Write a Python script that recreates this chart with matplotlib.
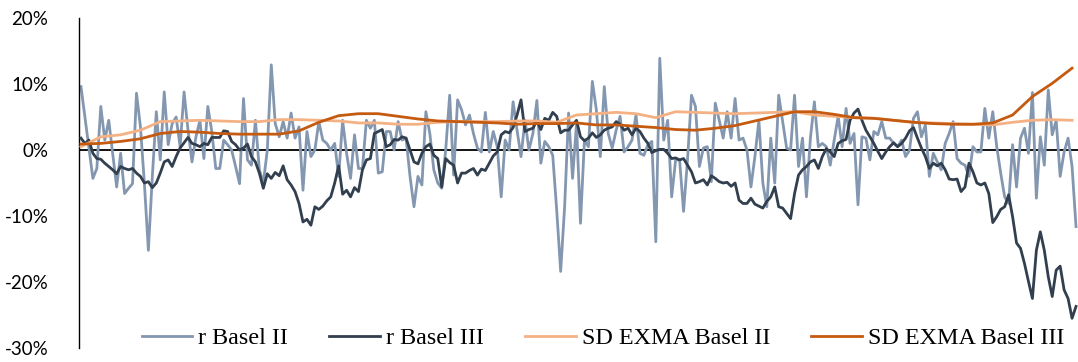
import matplotlib
matplotlib.use("Agg")
import matplotlib.pyplot as plt
import numpy as np

# ---- data (values in %) ----
r_basel2 = [
    9.6, 5, 0.5, -4.3, -2.8, 6.6, 1.5, 4.5, -0.5, -5.6, -0.5, -6.6, -5.8, -5.1, 8.6, 3.5, -5.1, -15.2, -4, 5.8,
    -1.5, 8.8, 0.8, 4.0, 5.0, 0.5, 8.8, 3, -1.8, 2, 4.5, -1.3, 6.6, 2.8, -2.8, -2.8, 1.5, 0.8, 0, -2.5, -5.1, 7.8,
    -1.5, -2.3, 4.5, -3, -5, 0, 12.9, 4.0, 2.0, 4.3, 1.8, 5.6, 1.8, 3.5, -6.1, 2.8, -1, 0, 4.3, 1.5,
    1, 0, 1, -4, 4.5, -0.5, -4.3, 2.3, -2.8, -2.8, 4.5, 3.3, 4.5, -3.5, -3.3, 2.8, 2.8, 0, 4.3, 1.5, 1.8, -4,
    -8.6, -4, -5.3, 5.8, 2.5, -3, -5, -5.8, 0, 8.3, -3.8, 7.6, 6.1, 3.8, 5.3, 2.5, 0.3, -0.3, 5.7, -0.3,
    2.8, 0.5, -7.1, 1.5, 0, 7.3, 3, -1, 4.5, 0, 2.5, 7.5, -2, 1.3, 0.5, -0.8, -9.1, -18.4, -8.6, 5.6, -4.3, 4,
    -11.1, 1.5, 0.5, 10.4, 6.1, -1, 9.6, 2.5, 0.3, 3, 5.1, -0.3, 0.5, 1.5, 5.3, -0.5, -0.8, 0.8, 1.3, -13.9,
    13.9, 1.5, 4.5, -7.1, -1.5, -1.5, -9.3, -1.5, 8.3, 6.6, -2.5, 0.3, 0.5, -4.8, 7.1, 4.5, 1.8, 5.8, 1.8, 7.8, 1.5,
    1.8, 0, -5.6, -1, 4.5, -5, -8.6, 1.8, -5, 8.3, 4.3, 0.3, 0, 8.3, -2.5, 1.8, -7.1, 1.8, 7.3, 0.5,
    1, 0.5, -2.3, 1.5, 5.1, 0.5, 6.3, 1, 2.5, -8.3, 2, 1.8, -1.5, 2.8, 2.3, 4.3, 1.8, 1.8, 1, 0.5, 1.5,
    -1, 0, 4.8, 5.8, 2, 3.8, -4, -0.5, -1.8, -3, 1, 2.5, 4.3, -1.3, -2, -2.3, -4, 0.5, -0.3, -0.3,
    6.3, 1.8, 5.8, 0.5, -3.5, -7.1, -8.1, 0.8, -5.6, 1.8, 3.3, -0.5, 8.7, -7.3, 2, -2.3, 9.1, 2.3, 4.5, -4,
    -0.3, 1.8, -2.5, -11.6,
]

r_basel3 = [
    1.8, 1.0, 1.5, -0.5, -1.3, -1.4, -2.0, -2.5, -3.0, -3.6, -2.5, -2.8, -3.0, -2.8, -3.5, -4.0, -5.0, -4.8, -5.7, -5.0,
    -3.5, -1.8, -1.5, -2.5, -1.0, 0.3, 1.1, 1.9, 1.0, 0.8, 0.5, 1.0, 0.8, 1.9, 1.9, 1.9, 2.9, 2.8, 1.3, 0.8,
    0, 0.3, 0.9, -1, -1.8, -3.5, -5.8, -3.6, -4.3, -3.4, -3.9, -2.4, -4.5, -5.3, -6.3, -8.1, -10.9, -10.5, -11.4, -8.6,
    -9, -8.5, -7.7, -7.1, -5, -2.4, -6.7, -6.1, -7.1, -5.7, -6.3, -3, -1.5, -1.3, 2.5, 2.8, 3.1, 0.5, 0.8, 1.6, 1.5, 2,
    1.8, 0, -1.8, -2.1, -0.5, 0.5, 0.9, -0.8, -1.3, -5.6, -1.3, -1.9, -2.3, -5, -3.5, -3.5, -3.1, -2.8, -3.8, -2.9,
    -3.1, -2, -0.9, -0.3, 2.3, 2.8, 2.6, 3.4, 5.3, 7.6, 2.8, 3.1, 3.3, 4.4, 3.1, 4.8, 4.5, 5.7, 5.1, 2.6, 3, 3, 3.8,
    4.5, 2, 1.4, 1.8, 2.6, 1.9, 2.3, 3, 3.3, 3.5, 4.3, 3.9, 3, 3.3, 2.3, 3.3, 2.8, 1.8, 1, -0.4,
    -0.1, 0.1, 0.1, -0.5, -1.3, -1.2, -1.5, -1.3, -2.3, -3.3, -5, -4.8, -4.5, -5.3, -3.9, -4.3, -4.8, -5, -4.9, -5.5,
    -5, -7.6, -8.1,
    -8.1, -7.3, -8.2, -8.5, -8.8, -7.8, -7.1, -5.6, -8.6, -8.8, -9.6, -10.4, -6.6, -3.8, -3, -2.5, -1.8, -1.5, -2.8, -1,
    0.2, -0.3, -1, 1, 1.4, 1.6, 4.5, 5.6, 6.2, 4.5, 3, 2, 1, -0.2, -1.3, -0.3, 0.5, 1.1, 0.5, 1,
    1.8, 2.9, 3.4, 1.8, 0.3, -1, -2.8, -2, -2.4, -2, -3, -4.4, -4.5, -4.4, -6.3, -5.6, -2, -3.3, -5, -5.3,
    -5, -6.6, -11, -10.1, -9, -8.6, -6.8, -10.1, -14.1, -14.9, -17.2, -19.9, -22.5, -15.2, -12.4, -15.2, -19.2, -22.2,
    -18.2, -17.6, -21.2, -22.5, -25.5, -23.7,
]

# EXMA standard deviations, read every 5th period
sd_step = 5
sd_basel2 = [
    0.5, 2.0, 2.3, 3.0, 4.3, 4.4, 4.5, 4.4, 4.3, 4.3, 4.6, 4.6, 4.5, 4.4, 4.1, 4.1, 3.9, 3.9, 4.2, 4.3,
    4.3, 4.3, 4.4, 4.4, 4.2, 5.3, 5.5, 5.7, 5.5, 4.9, 5.8, 5.7, 5.6, 5.5, 5.6, 5.7, 5.8, 5.3, 5.1, 4.9,
    4.8, 4.5, 4.2, 4.1, 4.0, 3.9, 3.8, 4.2, 4.5, 4.6, 4.5,
]
sd_basel3 = [
    0.9, 1.0, 1.3, 1.7, 2.5, 2.8, 2.7, 2.5, 2.4, 2.4, 2.4, 2.9, 4.2, 5.2, 5.5, 5.5, 5.1, 4.7, 4.4, 4.3,
    4.2, 4.1, 3.9, 4.0, 4.0, 4.1, 3.8, 3.8, 3.6, 3.4, 3.1, 3.0, 3.3, 3.7, 4.4, 5.1, 5.8, 5.8, 5.4, 4.9,
    4.8, 4.5, 4.2, 4.0, 3.9, 3.9, 4.1, 5.3, 8.1, 10.1, 12.4,
]

series_labels = ["r Basel II", "r Basel III", "SD EXMA Basel II", "SD EXMA Basel III"]
y_ticks = [-30, -20, -10, 0, 10, 20]
y_tick_labels = ["-30%", "-20%", "-10%", "0%", "10%", "20%"]

colors = ["#8497B0", "#323F4F", "#F4B183", "#C55A11"]

# ---- figure ----
W, H = 1078, 362
fig = plt.figure(figsize=(W / 100, H / 100), dpi=100)
ax = fig.add_axes([79 / W, 14 / H, 999 / W, 330 / H])

t = np.arange(len(r_basel2))
t3 = np.arange(len(r_basel3))
t_sd2 = np.arange(len(sd_basel2)) * sd_step
t_sd3 = np.arange(len(sd_basel3)) * sd_step

ax.axhline(0, color="black", lw=1.3, zorder=1)
ax.plot(t, r_basel2, color=colors[0], lw=2.0, label=series_labels[0], zorder=2)
ax.plot(t3, r_basel3, color=colors[1], lw=2.0, label=series_labels[1], zorder=3)
ax.plot(t_sd2, sd_basel2, color=colors[2], lw=2.0, label=series_labels[2], zorder=4)
ax.plot(t_sd3, sd_basel3, color=colors[3], lw=2.0, label=series_labels[3], zorder=5)

ax.set_xlim(-0.5, len(r_basel2) - 0.5)
ax.set_ylim(-30, 20)
ax.set_yticks(y_ticks)
ax.set_yticklabels(y_tick_labels, fontsize=13.5, family=["Lato", "DejaVu Sans"])
ax.tick_params(axis="y", length=0, pad=22)
ax.set_xticks([])

for s in ["top", "right", "bottom"]:
    ax.spines[s].set_visible(False)
ax.spines["left"].set_color("black")
ax.spines["left"].set_linewidth(1.0)

leg = ax.legend(loc="center", bbox_to_anchor=(0.5245, 0.03), ncol=4, frameon=False,
                prop={"family": "Liberation Serif", "size": 17.4},
                handlelength=2.1, handletextpad=0.25, columnspacing=1.7)

fig.savefig("out.png", dpi=100)
